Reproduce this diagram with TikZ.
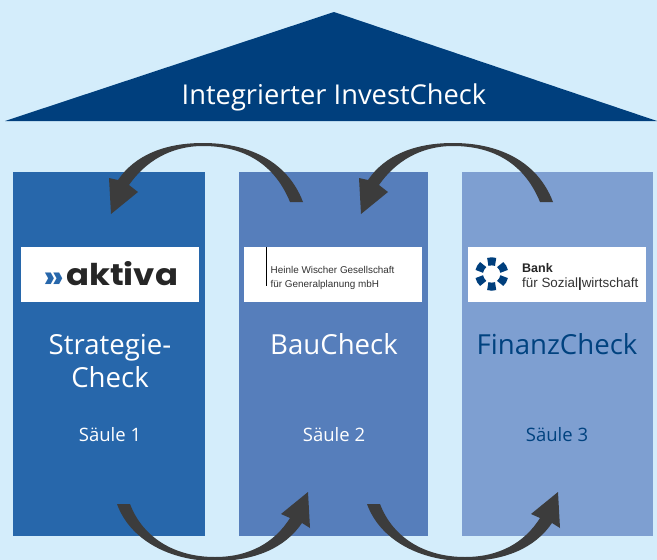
\documentclass[tikz,border=0pt]{standalone}
\usepackage{fontspec}
\setmainfont{Open Sans}
\newfontfamily\aktivafont[FakeStretch=1.13]{Poppins}
\newfontfamily\logofont{Liberation Sans}
\definecolor{skybg}{HTML}{D4EDFB}
\definecolor{roofblue}{HTML}{003F7D}
\definecolor{colone}{HTML}{2767AB}
\definecolor{coltwo}{HTML}{567EBB}
\definecolor{colthree}{HTML}{7E9FD1}
\definecolor{darktext}{HTML}{00427F}
\definecolor{arrowgrey}{HTML}{3C3C3C}
\begin{document}
\begin{tikzpicture}[x=1pt,y=-1pt,
    pillar/.style={draw=none,minimum height=364pt,anchor=north west,inner sep=0pt},
    logobox/.style={fill=white,minimum width=178pt,minimum height=55pt,inner sep=0pt},
    logotext/.style={text=black!80,anchor=base west,inner sep=0pt},
    titletext/.style={text=white,font=\fontsize{27.6}{33}\selectfont,align=center},
    subtext/.style={text=white,font=\fontsize{18.5}{20}\selectfont}]
    \useasboundingbox (0,0) rectangle (657,560);
    \fill[skybg] (0,0) rectangle (657,560);
    \fill[roofblue] (334,12) -- (657,121) -- (5,121) -- cycle;
    \node[text=white,font=\fontsize{27.3}{30}\selectfont] (roof) at (334,97) {Integrierter InvestCheck};
    % pillars
    \node[pillar,fill=colone,minimum width=192pt] (col1) at (13,172) {};
    \node[pillar,fill=coltwo,minimum width=189pt] (col2) at (239,172) {};
    \node[pillar,fill=colthree,minimum width=191pt] (col3) at (462,172) {};
    % logos
    \node[logobox] (logo1) at (110,274.5) {};
    \node[logobox] (logo2) at (333,274.5) {};
    \node[logobox] (logo3) at (557,274.5) {};
    \node[text=colone,font=\aktivafont\bfseries\fontsize{33}{33}\selectfont,inner sep=0pt,anchor=base west] (chev) at (43,288.5) {»};
    \node[logotext,text=black!85,font=\aktivafont\bfseries\fontsize{30}{30}\selectfont] (aktiva) at (66,285) {aktiva};
    \draw[black,line width=0.8pt] (266,247) -- (266,286);
    \node[logotext,font=\logofont\fontsize{9.9}{14}\selectfont] (heinle1) at (270.5,273) {Heinle Wischer Gesellschaft};
    \node[logotext,font=\logofont\fontsize{9.9}{14}\selectfont] (heinle2) at (270.5,287.5) {für Generalplanung mbH};
    \foreach \a in {90,30,...,-210} {
        \draw[roofblue,line width=8pt] (491.7,274) ++(\a-18:12.7pt) arc[start angle=\a-18,end angle=\a+18,radius=12.7pt];
    }
    \node[logotext,text=black!85,font=\logofont\bfseries\fontsize{12.5}{14}\selectfont] (bank1) at (522,272) {Bank};
    \node[logotext,font=\logofont\fontsize{13.4}{14}\selectfont] (bank2) at (522,287.5) {für Sozial\textbf{|}wirtschaft};
    % labels
    \node[titletext] (title1) at (110,361) {Strategie-\\Check};
    \node[titletext] (title2) at (334,344) {BauCheck};
    \node[titletext,text=darktext] (title3) at (557,344) {FinanzCheck};
    \node[subtext] (sub1) at (110,435) {Säule 1};
    \node[subtext] (sub2) at (334,435) {Säule 2};
    \node[subtext,text=darktext] (sub3) at (557,435) {Säule 3};
    % arrows
    \foreach \i in {0,250} {
        \fill[arrowgrey,shift={(\i,0)}] (303,202) .. controls (287,160) and (247,143) .. (203,143)
            .. controls (165,143) and (135,155) .. (118,180) -- (109,178) -- (111,214) -- (138,192) -- (129,185)
            .. controls (145,162) and (170,146) .. (203,146)
            .. controls (245,146) and (275,165) .. (290,202) -- cycle;
        \fill[arrowgrey,shift={(\i,0)}] (117,504) .. controls (130,540) and (170,561) .. (215,561)
            .. controls (255,561) and (285,548) .. (302,523) -- (310,528) -- (308,492) -- (281,514) -- (290,518)
            .. controls (275,542) and (250,557) .. (215,557)
            .. controls (175,557) and (143,538) .. (130,504) -- cycle;
    }
\end{tikzpicture}
\end{document}
